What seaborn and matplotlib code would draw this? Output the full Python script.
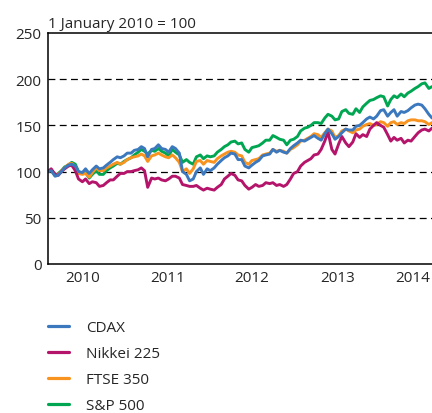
import pandas as pd
import numpy as np
import matplotlib
matplotlib.use('Agg')
import matplotlib.pyplot as plt
import matplotlib.dates as mdates
from matplotlib.lines import Line2D
import seaborn as sns

# semi-monthly readings (1st and 15th), Jan 2010 - Aug 2014, 1 Jan 2010 = 100
cdax = [100, 101, 95, 96, 100, 104, 107, 108, 106, 100, 99, 103, 98, 102, 106, 103, 104, 107, 110, 113, 116, 115, 117, 120,
        120, 123, 124, 127, 125, 116, 124, 125, 129, 125, 124, 121, 127, 125, 120, 100, 97, 90, 92, 100, 104, 97, 103, 101,
        104, 108, 112, 115, 117, 120, 119, 113, 113, 106, 104, 107, 110, 112, 117, 118, 119, 124, 121, 123, 121, 120, 125, 128,
        131, 134, 133, 135, 137, 139, 136, 134, 141, 146, 141, 135, 138, 142, 146, 145, 145, 149, 150, 153, 157, 159, 157, 160,
        166, 167, 160, 164, 167, 160, 165, 164, 166, 169, 172, 173, 172, 168, 162, 158]
nikkei = [100, 103, 97, 96, 100, 103, 106, 107, 101, 92, 89, 92, 87, 89, 88, 84, 85, 88, 91, 91, 95, 98, 98, 100,
          100, 101, 102, 104, 101, 83, 93, 92, 93, 91, 90, 92, 95, 95, 93, 86, 85, 84, 84, 85, 82, 80, 82, 81,
          80, 83, 86, 92, 95, 98, 96, 91, 90, 85, 81, 83, 86, 84, 85, 88, 87, 88, 85, 86, 84, 86, 92, 98,
          100, 106, 110, 112, 114, 118, 119, 124, 133, 143, 124, 119, 130, 138, 131, 127, 132, 141, 137, 140, 138, 146, 150, 153,
          150, 148, 140, 133, 137, 134, 136, 131, 134, 133, 138, 142, 145, 146, 144, 147]
ftse = [100, 102, 96, 97, 101, 104, 108, 109, 105, 98, 97, 98, 94, 99, 104, 101, 101, 104, 106, 108, 110, 108, 110, 113,
        115, 116, 117, 119, 117, 111, 117, 118, 120, 118, 116, 115, 118, 115, 110, 100, 103, 98, 103, 111, 112, 108, 112, 111,
        110, 114, 117, 119, 121, 122, 121, 118, 117, 110, 108, 112, 113, 114, 118, 119, 120, 124, 122, 123, 122, 120, 124, 126,
        129, 133, 134, 136, 138, 141, 140, 137, 142, 146, 144, 137, 139, 144, 146, 144, 142, 145, 146, 149, 151, 152, 150, 151,
        154, 153, 149, 153, 154, 151, 153, 152, 155, 156, 156, 155, 155, 154, 151, 153]
sp500 = [100, 102, 96, 98, 101, 105, 107, 110, 108, 100, 98, 99, 93, 97, 101, 97, 97, 101, 104, 106, 109, 108, 111, 113,
         115, 118, 121, 124, 122, 119, 123, 122, 125, 122, 120, 117, 124, 121, 118, 110, 113, 110, 108, 116, 118, 114, 117, 116,
         117, 121, 124, 127, 129, 132, 133, 130, 131, 124, 121, 126, 127, 128, 131, 134, 134, 139, 137, 135, 134, 129, 134, 135,
         138, 144, 147, 148, 150, 153, 153, 152, 158, 162, 160, 156, 157, 165, 167, 163, 162, 168, 164, 170, 174, 177, 178, 180,
         182, 181, 171, 178, 182, 180, 184, 181, 185, 187, 190, 192, 195, 196, 190, 192]

names = ['CDAX', 'Nikkei 225', 'FTSE 350', 'S&P 500']
colors = ['#3C78BE', '#B5146B', '#F7931E', '#00A651']
years = ['2010', '2011', '2012', '2013', '2014']

months = pd.date_range('2010-01-01', '2014-08-01', freq='MS')
dates = sorted(list(months) + list(months + pd.Timedelta(days=14)))

df = pd.DataFrame({'date': dates, 'CDAX': cdax, 'Nikkei 225': nikkei,
                   'FTSE 350': ftse, 'S&P 500': sp500})
long = df.melt(id_vars='date', var_name='index', value_name='value')

sns.set_style('white')
plt.rcParams['font.family'] = ['Open Sans', 'DejaVu Sans']
plt.rcParams['font.size'] = 11

fig = plt.figure(figsize=(4.32, 4.14), dpi=100)
ax = fig.add_axes([48 / 432, 149 / 414, 384 / 432, 231 / 414])

# draw back to front so CDAX sits on top
for name in ['S&P 500', 'FTSE 350', 'Nikkei 225', 'CDAX']:
    sns.lineplot(data=long[long['index'] == name], x='date', y='value',
                 color=colors[names.index(name)], lw=2.1, ax=ax, legend=False)

ax.set_ylim(0, 250)
ax.set_yticks([0, 50, 100, 150, 200, 250])
for v in [50, 100, 150, 200]:
    ax.axhline(v, color='black', lw=0.9, dashes=(5.5, 3.5), zorder=0)

start = mdates.date2num(pd.Timestamp('2010-01-01'))
end = mdates.date2num(pd.Timestamp('2014-08-15'))
ax.set_xlim(start, end)
year_starts = [mdates.date2num(pd.Timestamp(f'{y}-01-01')) for y in years]
# year labels sit a little left of mid-year in the original
label_frac = [0.091, 0.311, 0.531, 0.754, 0.951]
ax.set_xticks([start + f * (end - start) for f in label_frac])
ax.set_xticklabels(years)
ax.set_xticks(year_starts, minor=True)
ax.tick_params(axis='x', which='major', length=0, pad=4.5, labelsize=11)
ax.tick_params(axis='x', which='minor', length=5, width=1.0, direction='out', color='black')
ax.tick_params(axis='y', length=0, pad=4.5, labelsize=11)
ax.set_xlabel('')
ax.set_ylabel('')

for s in ['left', 'top', 'bottom']:
    ax.spines[s].set_color('black')
    ax.spines[s].set_linewidth(1.1)
ax.spines['right'].set_visible(False)

ax.text(0.0, 1.0 + 6 / 231, '1 January 2010 = 100', transform=ax.transAxes,
        ha='left', va='baseline', fontsize=11)

handles = [Line2D([0], [0], color=c, lw=2.3) for c in colors]
fig.legend(handles, names, loc='upper left', bbox_to_anchor=(48 / 432, 1 - 321 / 414),
           frameon=False, fontsize=11, handlelength=1.4, handletextpad=1.1,
           labelspacing=0.72, borderpad=0, borderaxespad=0)

fig.savefig('out.png', dpi=100)
